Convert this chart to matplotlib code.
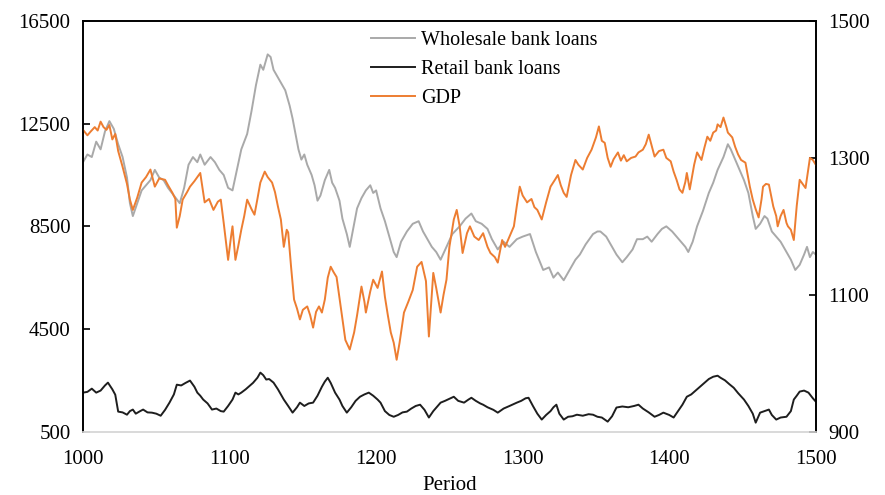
import numpy as np
import matplotlib
matplotlib.use("Agg")
import matplotlib.pyplot as plt

plt.rcParams["font.family"] = ["Liberation Serif", "DejaVu Serif"]

# wholesale bank loans (left axis)
wholesale_t = [1000, 1003, 1006, 1009, 1012, 1015, 1018, 1021, 1024, 1027, 1030, 1032, 1034, 1037,
               1040, 1043, 1046, 1049, 1052, 1055, 1058, 1062, 1066, 1069, 1072, 1075, 1078, 1080,
               1083, 1087, 1090, 1093, 1096, 1099, 1102, 1105, 1108, 1112, 1115, 1118, 1121, 1123,
               1126, 1128, 1130, 1132, 1135, 1138, 1141, 1143, 1145, 1147, 1149, 1151, 1153, 1156,
               1158, 1160, 1162, 1165, 1168, 1170, 1172, 1175, 1177, 1180, 1182, 1184, 1187, 1190,
               1193, 1196, 1198, 1200, 1203, 1206, 1209, 1212, 1214, 1217, 1221, 1225, 1229, 1232,
               1235, 1238, 1241, 1244, 1248, 1252, 1257, 1261, 1265, 1268, 1272, 1276, 1279, 1283,
               1287, 1291, 1296, 1300, 1305, 1309, 1314, 1318, 1321, 1324, 1328, 1332, 1336, 1339,
               1343, 1348, 1351, 1353, 1357, 1360, 1364, 1368, 1371, 1375, 1378, 1382, 1385, 1388,
               1392, 1395, 1398, 1402, 1405, 1408, 1411, 1413, 1416, 1419, 1423, 1427, 1430, 1433,
               1437, 1440, 1442, 1445, 1448, 1451, 1454, 1457, 1459, 1462, 1465, 1467, 1470, 1473,
               1476, 1480, 1483, 1486, 1489, 1492, 1494, 1496, 1498, 1500]
wholesale = [11000, 11300, 11200, 11800, 11500, 12200, 12600, 12300, 11700, 11200, 10400, 9400, 8900, 9400,
             9900, 10100, 10300, 10700, 10400, 10300, 10000, 9700, 9400, 10000, 10900, 11200, 11000, 11300,
             10900, 11200, 11000, 10700, 10500, 10000, 9900, 10700, 11500, 12100, 13000, 14000, 14800, 14600,
             15200, 15100, 14600, 14400, 14100, 13800, 13200, 12700, 12100, 11500, 11100, 11300, 10900, 10500,
             10100, 9500, 9700, 10300, 10700, 10200, 10000, 9500, 8800, 8200, 7700, 8300, 9200, 9600,
             9900, 10100, 9800, 9900, 9200, 8700, 8100, 7500, 7300, 7900, 8300, 8600, 8700, 8300,
             8000, 7700, 7500, 7200, 7700, 8200, 8500, 8800, 9000, 8700, 8600, 8400, 8000, 7600,
             7900, 7700, 8000, 8100, 8200, 7500, 6800, 6900, 6500, 6700, 6400, 6800, 7200, 7400,
             7800, 8200, 8300, 8300, 8100, 7800, 7400, 7100, 7300, 7600, 8000, 8000, 8100, 7900,
             8200, 8400, 8500, 8300, 8100, 7900, 7700, 7500, 7900, 8500, 9100, 9800, 10200, 10700,
             11200, 11700, 11500, 11100, 10700, 10300, 9800, 8900, 8400, 8600, 8900, 8800, 8300, 8100,
             7900, 7500, 7200, 6800, 7000, 7400, 7700, 7300, 7500, 7400]

# retail bank loans (left axis)
retail_t = [1000, 1003, 1006, 1009, 1012, 1015, 1017, 1020, 1022, 1024, 1027, 1030, 1032, 1034, 1036,
            1039, 1041, 1044, 1047, 1050, 1053, 1056, 1059, 1062, 1064, 1067, 1070, 1073, 1076, 1078,
            1080, 1082, 1085, 1088, 1091, 1094, 1096, 1099, 1102, 1104, 1106, 1108, 1111, 1113, 1116,
            1119, 1121, 1123, 1125, 1127, 1130, 1133, 1135, 1137, 1140, 1143, 1146, 1148, 1151, 1154,
            1157, 1160, 1163, 1165, 1167, 1169, 1172, 1175, 1177, 1180, 1183, 1186, 1189, 1192, 1195,
            1198, 1201, 1203, 1206, 1209, 1212, 1215, 1218, 1221, 1224, 1227, 1230, 1233, 1236, 1239,
            1242, 1244, 1247, 1250, 1253, 1256, 1260, 1263, 1265, 1268, 1271, 1273, 1276, 1280, 1283,
            1287, 1291, 1296, 1299, 1302, 1304, 1307, 1310, 1313, 1316, 1319, 1321, 1323, 1325, 1328,
            1331, 1334, 1337, 1341, 1345, 1348, 1351, 1354, 1358, 1361, 1364, 1368, 1372, 1376, 1379,
            1382, 1386, 1390, 1393, 1396, 1400, 1403, 1406, 1409, 1412, 1415, 1418, 1421, 1424, 1427,
            1430, 1433, 1435, 1438, 1441, 1444, 1447, 1451, 1454, 1457, 1459, 1462, 1465, 1468, 1470,
            1473, 1476, 1480, 1483, 1485, 1487, 1489, 1492, 1495, 1498, 1500]
retail = [2020, 2050, 2175, 2020, 2100, 2300, 2410, 2150, 1940, 1280, 1250, 1160, 1300, 1360, 1200,
          1300, 1360, 1250, 1240, 1200, 1120, 1350, 1630, 1950, 2330, 2300, 2400, 2490, 2250, 2020,
          1900, 1750, 1600, 1360, 1400, 1300, 1280, 1500, 1750, 2020, 1950, 2020, 2150, 2250, 2400,
          2600, 2800, 2700, 2530, 2550, 2410, 2150, 1950, 1750, 1500, 1240, 1450, 1630, 1500, 1600,
          1630, 1900, 2250, 2450, 2600, 2400, 2020, 1750, 1500, 1240, 1450, 1700, 1860, 1950, 2020,
          1900, 1750, 1630, 1300, 1150, 1080, 1150, 1250, 1280, 1400, 1500, 1550, 1350, 1050, 1300,
          1500, 1630, 1700, 1780, 1860, 1700, 1630, 1750, 1820, 1700, 1600, 1550, 1450, 1350, 1240,
          1400, 1500, 1630, 1700, 1800, 1820, 1500, 1200, 970, 1150, 1300, 1450, 1550, 1200, 970,
          1080, 1100, 1160, 1120, 1180, 1160, 1080, 1050, 890, 1100, 1440, 1480, 1450, 1500, 1550,
          1400, 1250, 1080, 1150, 1240, 1150, 1050, 1300, 1550, 1860, 1950, 2100, 2250, 2400, 2550,
          2640, 2680, 2600, 2500, 2350, 2210, 2000, 1750, 1500, 1200, 850, 1240, 1300, 1360, 1150,
          970, 1050, 1080, 1300, 1750, 1900, 2060, 2100, 2020, 1800, 1670]

# GDP (right axis)
gdp_t = [1000, 1003, 1005, 1008, 1010, 1012, 1014, 1016, 1018, 1020, 1022, 1024, 1027, 1030, 1032,
         1034, 1037, 1040, 1043, 1046, 1049, 1052, 1056, 1058, 1061, 1063, 1064, 1066, 1068, 1071,
         1073, 1076, 1078, 1080, 1083, 1086, 1089, 1092, 1094, 1096, 1099, 1101, 1102, 1104, 1106,
         1108, 1110, 1112, 1115, 1117, 1119, 1121, 1124, 1126, 1129, 1131, 1133, 1135, 1137, 1139,
         1140, 1142, 1144, 1146, 1148, 1150, 1153, 1155, 1157, 1159, 1161, 1163, 1165, 1167, 1169,
         1171, 1173, 1176, 1179, 1182, 1185, 1187, 1190, 1192, 1193, 1196, 1198, 1201, 1204, 1206,
         1208, 1210, 1212, 1214, 1216, 1219, 1222, 1225, 1228, 1231, 1234, 1236, 1239, 1241, 1244,
         1246, 1248, 1250, 1253, 1255, 1257, 1259, 1262, 1264, 1267, 1270, 1273, 1276, 1278, 1281,
         1283, 1286, 1288, 1291, 1294, 1296, 1298, 1300, 1303, 1306, 1308, 1310, 1313, 1316, 1319,
         1322, 1324, 1326, 1328, 1330, 1333, 1336, 1338, 1341, 1344, 1347, 1350, 1352, 1354, 1356,
         1358, 1360, 1362, 1365, 1367, 1369, 1371, 1374, 1377, 1379, 1382, 1384, 1386, 1388, 1390,
         1393, 1396, 1398, 1401, 1403, 1405, 1407, 1409, 1411, 1412, 1414, 1417, 1419, 1422, 1424,
         1426, 1428, 1430, 1432, 1433, 1435, 1437, 1439, 1440, 1443, 1445, 1447, 1449, 1452, 1454,
         1455, 1457, 1459, 1461, 1463, 1464, 1466, 1468, 1470, 1471, 1473, 1474, 1476, 1478, 1480,
         1481, 1483, 1485, 1487, 1489, 1491, 1493, 1495, 1496, 1498, 1500]
gdp = [1341, 1333, 1338, 1345, 1340, 1353, 1345, 1341, 1348, 1327, 1335, 1310, 1287, 1262, 1239,
       1224, 1242, 1264, 1272, 1283, 1258, 1270, 1268, 1260, 1249, 1240, 1198, 1215, 1239, 1250,
       1258, 1266, 1272, 1278, 1235, 1240, 1224, 1236, 1239, 1205, 1151, 1185, 1200, 1151, 1172,
       1195, 1215, 1239, 1225, 1217, 1240, 1264, 1280, 1272, 1264, 1250, 1229, 1210, 1170, 1195,
       1191, 1140, 1093, 1080, 1064, 1078, 1083, 1070, 1052, 1075, 1083, 1074, 1093, 1125, 1141,
       1133, 1126, 1080, 1034, 1020, 1045, 1070, 1112, 1090, 1074, 1105, 1122, 1110, 1134, 1097,
       1070, 1045, 1030, 1005, 1030, 1074, 1090, 1107, 1141, 1148, 1120, 1039, 1132, 1110, 1074,
       1100, 1122, 1170, 1210, 1224, 1200, 1161, 1190, 1200, 1185, 1180, 1190, 1170, 1161, 1155,
       1147, 1180, 1170, 1185, 1200, 1230, 1258, 1245, 1235, 1240, 1228, 1224, 1210, 1235, 1258,
       1268, 1275, 1260, 1249, 1243, 1275, 1297, 1290, 1283, 1300, 1312, 1330, 1346, 1325, 1322,
       1300, 1287, 1298, 1308, 1296, 1304, 1295, 1300, 1302, 1308, 1312, 1320, 1334, 1318, 1302,
       1310, 1312, 1300, 1295, 1280, 1268, 1254, 1249, 1265, 1278, 1254, 1290, 1308, 1297, 1315,
       1331, 1325, 1337, 1340, 1349, 1345, 1359, 1345, 1337, 1330, 1316, 1305, 1297, 1293, 1270,
       1258, 1239, 1225, 1213, 1240, 1258, 1262, 1261, 1240, 1229, 1215, 1200, 1215, 1224, 1205,
       1200, 1195, 1180, 1230, 1268, 1262, 1256, 1285, 1300, 1297, 1290]

fig = plt.figure(figsize=(8.85, 4.95), dpi=100)
ax = fig.add_axes([0.0938, 0.128, 0.828, 0.8295])
ax2 = ax.twinx()

l1, = ax.plot(wholesale_t, wholesale, color="#a9a9a9", lw=1.4, label="Wholesale bank loans")
l2, = ax.plot(retail_t, retail, color="#1e1e1e", lw=1.4, label="Retail bank loans")
l3, = ax2.plot(gdp_t, gdp, color="#ed7d31", lw=1.4, label="GDP")

ax.set_xlim(1000, 1500)
ax.set_ylim(500, 16500)
ax2.set_ylim(900, 1500)
ax.set_xticks(np.arange(1000, 1501, 100))
ax.set_yticks(np.arange(500, 16501, 4000))
ax2.set_yticks(np.arange(900, 1501, 200))

for a in (ax, ax2):
    for side in ("left", "right", "top"):
        a.spines[side].set_color("black")
        a.spines[side].set_linewidth(1.2)
    a.spines["bottom"].set_color("#d9d9d9")
    a.spines["bottom"].set_linewidth(1.2)

ax.tick_params(axis="y", direction="in", length=5, width=1.2, pad=9, labelsize=15)
ax2.tick_params(axis="y", direction="in", length=5, width=1.2, pad=9, labelsize=15)
ax.tick_params(axis="x", length=0, pad=13, labelsize=15)
ax.set_xlabel("Period", fontsize=15, labelpad=5)

fig.legend(handles=[l1, l2, l3], loc="upper left", bbox_to_anchor=(371 / 885, 1 - 31 / 495),
           frameon=False, fontsize=14.5, handlelength=2.2, handletextpad=0.3,
           labelspacing=0.5, borderpad=0, borderaxespad=0)

fig.savefig("out.png", dpi=100)
